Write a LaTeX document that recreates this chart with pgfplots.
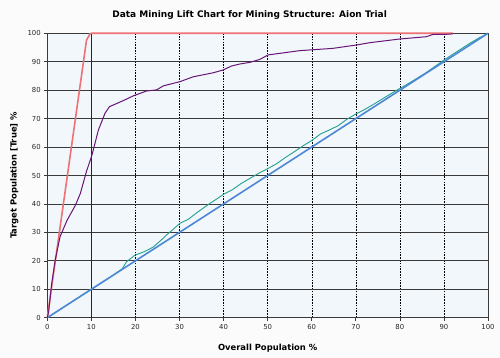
\documentclass[border=0pt]{standalone}
\usepackage{pgfplots}
\pgfplotsset{compat=1.18}
\usepackage{fontspec}
\setmainfont{DejaVu Sans}
\definecolor{bgc}{HTML}{F1F7FB}
\definecolor{redl}{HTML}{EE7275}
\definecolor{purl}{HTML}{6A1478}
\definecolor{teall}{HTML}{22A08E}
\definecolor{bluel}{HTML}{4C88D6}
\definecolor{gridc}{HTML}{3A3A3A}
\begin{document}
\begin{tikzpicture}
\path[use as bounding box, fill=white!97!gray] (-47.3pt,-40.3pt) rectangle (452.7pt,317.7pt);
\begin{axis}[
  scale only axis, width=440.7pt, height=284.4pt,
  at={(0pt,0pt)}, anchor=south west,
  xmin=0, xmax=100, ymin=0, ymax=100,
  xtick={0,10,...,100}, ytick={0,10,...,100},
  axis background/.style={fill=bgc},
  axis line style={gridc, line width=0.8pt},
  tick style={gridc, line width=0.6pt},
  tick align=outside, major tick length=3pt,
  xtick pos=bottom, ytick pos=left,
  ticklabel style={font=\fontsize{6.9}{8}\selectfont, text=black!85},
  /pgf/number format/assume math mode=true,
  xmajorgrids, ymajorgrids,
  x grid style={black, dash pattern=on 1.6pt off 1.2pt, line width=0.4pt},
  y grid style={gridc, line width=0.7pt},
  xlabel={\bfseries Overall Population \%},
  ylabel={\bfseries Target Population [True] \%},
  label style={font=\fontsize{8.4}{9}\selectfont},
  xlabel style={at={(axis description cs:0.5,0)}, anchor=center, yshift=-30.5pt},
  ylabel style={at={(axis description cs:0,0.5)}, anchor=center, yshift=33pt},
  title={\bfseries Data Mining Lift Chart for Mining Structure: Aion Trial},
  title style={font=\fontsize{9}{10}\selectfont, at={(0.459,1)}, anchor=center, yshift=12.5pt},
  clip=false,
]
\draw[black!85, line width=1.3pt] (axis cs:10,0) -- (axis cs:10,100);
% teal
\addplot[teall, line width=0.9pt] coordinates {
(0,0) (5,5) (10,10) (15,15) (17,17.2) (18,19.7) (19.9,22) (22,23.2) (24,24.8) (26,27.5) (27,29) (28.5,31) (30.1,33.2) (32,34.6) (34,37) (36.9,40.2) (38.5,41.8) (40,43.4) (42,45) (44,47.2) (46,49) (48,50.8) (50,52.4) (52,54.1) (54,56.3) (56,58.3) (58,60.4) (60,62.3) (62,64.6) (64,66) (66,67.5) (68,69.8) (70,71.6) (72,73.2) (74,75) (76,76.9) (78,78.8) (80,80.6) (82,82.4) (84,84.3) (86,86.2) (88,88.4) (90,90.6) (92,92.6) (94,94.6) (96,96.6) (98,98.4) (100,100)};
% random guess (blue)
\addplot[bluel, line width=1.6pt] coordinates {(0,0) (20,20) (40,40) (60,60) (80,80) (100,100)};
% ideal (red)
\addplot[redl, line width=1.6pt] coordinates {(0,0) (8.9,97.6) (9.7,99.8) (10,100) (92,100)};
% model (purple)
\addplot[purl, line width=1pt] coordinates {
(0,0) (0.3,2) (1.0,12) (1.8,20.3) (2.9,28.5) (4.5,34.3) (6.4,39.6) (7.5,43.7) (8.9,51.5) (10.1,57) (11.6,66) (13.1,71.9) (14.1,74.2) (17.2,76.3) (19.5,78) (22.5,79.7) (24.8,80.1) (26.3,81.5) (30.1,83) (33.1,84.7) (37.6,86.1) (39.9,87.1) (41.8,88.5) (43.7,89.2) (46,89.8) (48.2,90.8) (50.1,92.4) (53,93) (57.3,93.9) (64.8,94.7) (70.2,95.9) (73.2,96.7) (80,98) (86,98.8) (87.5,99.6) (90.1,99.6) (92,99.8)};
\end{axis}
\end{tikzpicture}
\end{document}
